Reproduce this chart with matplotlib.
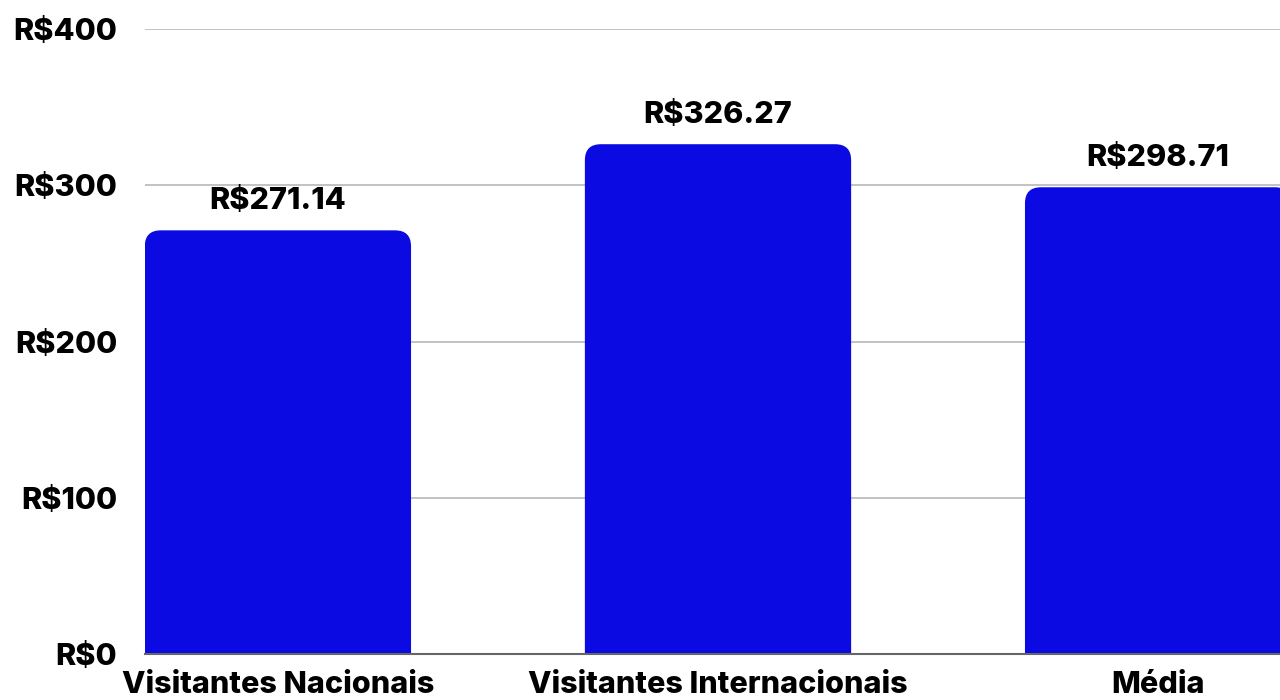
import matplotlib
matplotlib.use("Agg")
import matplotlib.pyplot as plt
from matplotlib.patches import FancyBboxPatch

plt.rcParams["font.family"] = ["Inter", "DejaVu Sans"]

categories = ["Visitantes Nacionais", "Visitantes Internacionais", "Média"]
values = [271.14, 326.27, 298.71]
yticks = [0, 100, 200, 300, 400]

BAR = "#0b0ae3"

fig = plt.figure(figsize=(12.8, 7), dpi=100)
ax = fig.add_axes([145/1280, 46/700, 1 - 145/1280, 625/700])

x = list(range(len(categories)))
width = 0.605
bars = ax.bar(x, values, width=width, color=BAR)
# swap plain bars for rounded-top ones
px_x = 440.0            # pixels per category
px_y = 625.0 / 400      # pixels per unit
r = 16
for b in bars:
    b.set_visible(False)
    p = FancyBboxPatch((b.get_x(), -30), b.get_width(), b.get_height() + 30,
                       boxstyle=f"round,pad=0,rounding_size={r/px_x}",
                       mutation_aspect=px_x / px_y, color=BAR, lw=0, zorder=2)
    ax.add_patch(p)
    ax.annotate(f"R${b.get_height():.2f}", (b.get_x() + b.get_width()/2, b.get_height()),
                xytext=(0, 11), textcoords="offset points", ha="center", va="bottom",
                fontsize=22, fontweight="heavy", color="black")

ax.set_xlim(-0.302, 2.277)
ax.set_ylim(0, 400)
ax.set_yticks(yticks)
ax.set_yticklabels([f"R${v}" for v in yticks], fontsize=22, fontweight="heavy")
ax.set_xticks(x)
ax.set_xticklabels(categories, fontsize=22, fontweight="heavy")
ax.tick_params(length=0)
ax.tick_params(axis="y", pad=20)
ax.tick_params(axis="x", pad=12)
ax.grid(axis="y", color="#bdbdbd", lw=1.3, zorder=0)
ax.set_axisbelow(True)
for s in ["top", "right", "left"]:
    ax.spines[s].set_visible(False)
ax.spines["bottom"].set_color("#666666")
ax.spines["bottom"].set_linewidth(1.5)
ax.spines["bottom"].set_zorder(3)

fig.savefig("out.png", dpi=100)
